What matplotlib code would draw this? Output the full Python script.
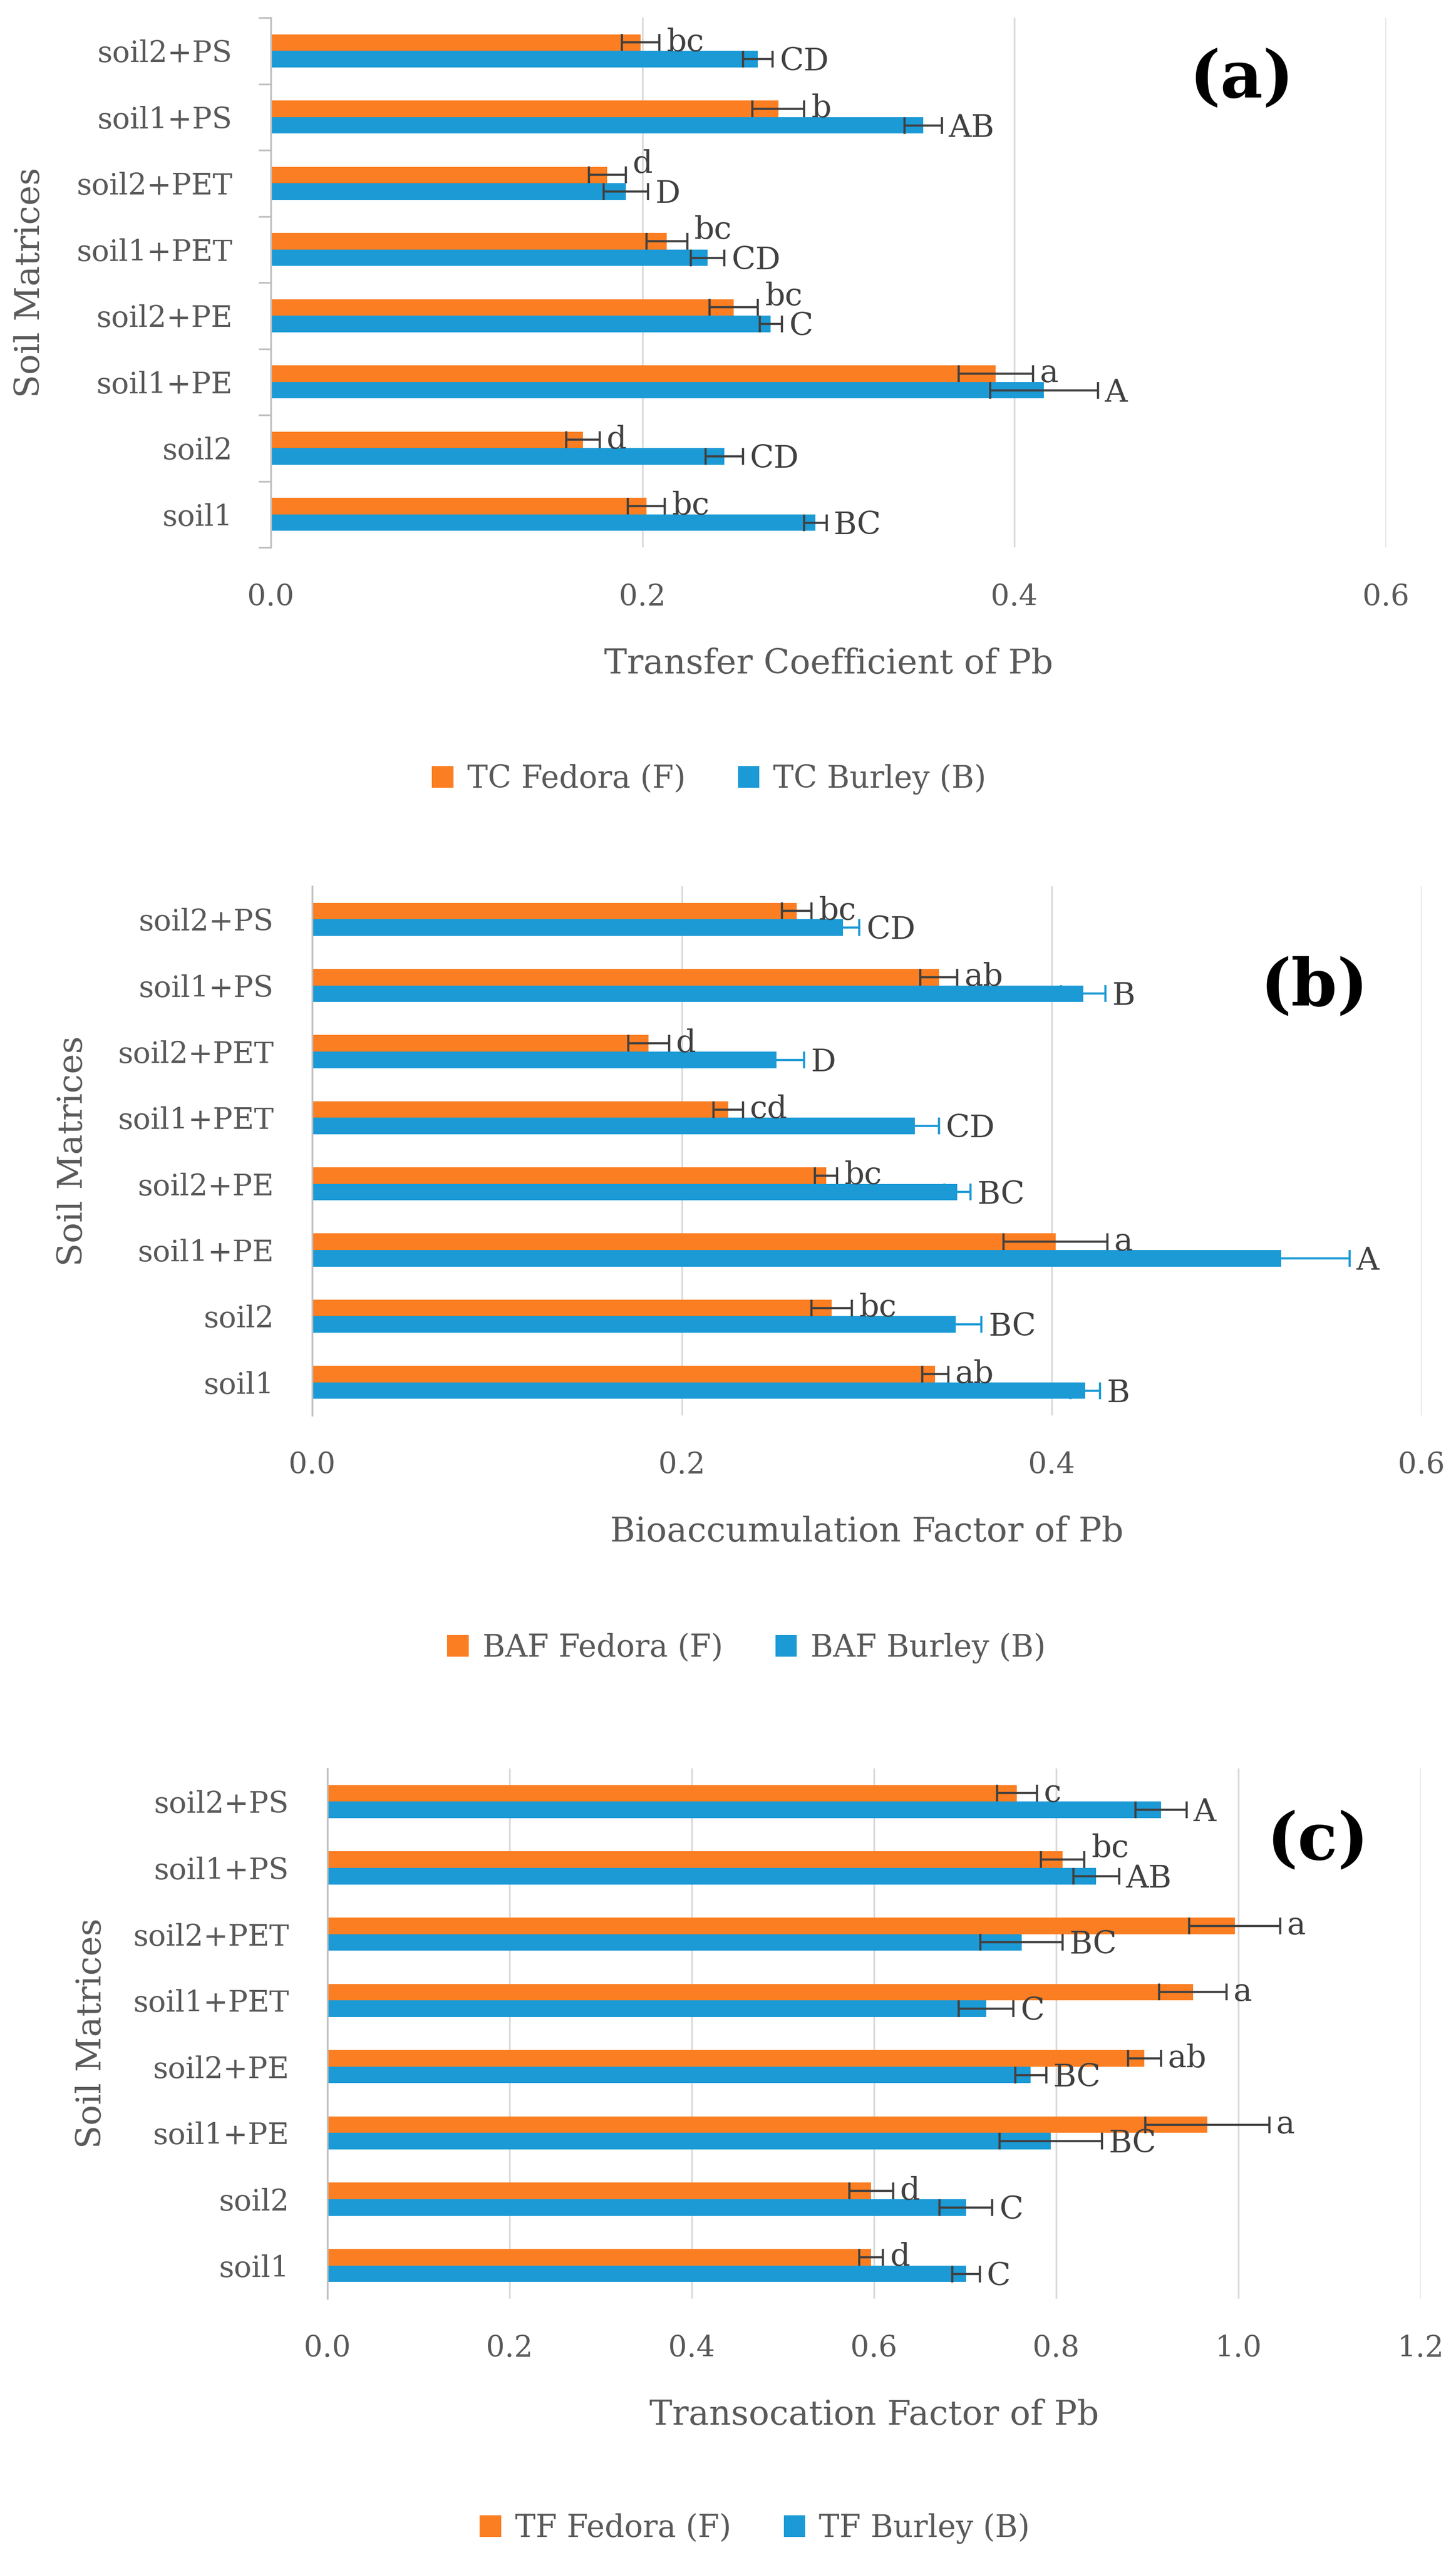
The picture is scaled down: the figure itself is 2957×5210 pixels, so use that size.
import matplotlib.pyplot as plt
from matplotlib.patches import Patch
import numpy as np

plt.rcParams['font.family'] = ['DejaVu Serif']

# categories from bottom to top
categories = ['soil1', 'soil2', 'soil1+PE', 'soil2+PE',
              'soil1+PET', 'soil2+PET', 'soil1+PS', 'soil2+PS']

# (a) transfer coefficient
tc_fedora = [0.202, 0.168, 0.390, 0.249, 0.213, 0.181, 0.273, 0.199]
tc_fedora_err = [0.010, 0.009, 0.020, 0.013, 0.011, 0.010, 0.014, 0.010]
tc_burley = [0.293, 0.244, 0.416, 0.269, 0.235, 0.191, 0.351, 0.262]
tc_burley_err = [0.006, 0.010, 0.029, 0.006, 0.009, 0.012, 0.010, 0.008]
tc_fedora_letters = ['bc', 'd', 'a', 'bc', 'bc', 'd', 'b', 'bc']
tc_burley_letters = ['BC', 'CD', 'A', 'C', 'CD', 'D', 'AB', 'CD']

# (b) bioaccumulation factor
baf_fedora = [0.337, 0.281, 0.402, 0.278, 0.225, 0.182, 0.339, 0.262]
baf_fedora_err = [0.007, 0.011, 0.028, 0.006, 0.008, 0.011, 0.010, 0.008]
baf_burley = [0.418, 0.348, 0.524, 0.349, 0.326, 0.251, 0.417, 0.287]
baf_burley_err = [0.008, 0.014, 0.037, 0.007, 0.013, 0.015, 0.012, 0.009]
baf_fedora_letters = ['ab', 'bc', 'a', 'bc', 'cd', 'd', 'ab', 'bc']
baf_burley_letters = ['B', 'BC', 'A', 'BC', 'CD', 'D', 'B', 'CD']

# (c) translocation factor
tf_fedora = [0.597, 0.597, 0.966, 0.897, 0.950, 0.996, 0.807, 0.757]
tf_fedora_err = [0.013, 0.024, 0.068, 0.018, 0.037, 0.050, 0.024, 0.022]
tf_burley = [0.701, 0.701, 0.794, 0.772, 0.723, 0.762, 0.844, 0.915]
tf_burley_err = [0.015, 0.029, 0.056, 0.017, 0.030, 0.045, 0.025, 0.028]
tf_fedora_letters = ['d', 'd', 'a', 'ab', 'a', 'a', 'bc', 'c']
tf_burley_letters = ['C', 'C', 'BC', 'BC', 'C', 'BC', 'AB', 'A']

ORANGE = '#FB7E22'
BLUE = '#1B9AD6'
ERR = '#404040'
TXT = '#595959'
GRID = '#D9D9D9'

W, H = 2957, 5210
fig = plt.figure(figsize=(W / 100, H / 100), dpi=100)


def px_axes(left, right, top, bottom):
    return fig.add_axes([left / W, 1 - bottom / H, (right - left) / W, (bottom - top) / H])


def panel(ax, fed, fed_err, bur, bur_err, fed_let, bur_let, xmax, xlabel,
          tag, tag_xy, leg_names, leg_xy, blue_err_color=ERR, ticks=False):
    y = np.arange(len(categories))
    h = 0.25
    ax.barh(y + h / 2, fed, height=h, color=ORANGE, zorder=2)
    ax.barh(y - h / 2, bur, height=h, color=BLUE, zorder=2)
    ax.errorbar(fed, y + h / 2, xerr=fed_err, fmt='none', ecolor=ERR,
                elinewidth=3.2, capsize=12, capthick=3.2, zorder=3)
    ax.errorbar(bur, y - h / 2, xerr=bur_err, fmt='none', ecolor=blue_err_color,
                elinewidth=3.2, capsize=12, capthick=3.2, zorder=3)

    # significance letters; lift the orange one when the blue bar ends just past it
    for i in range(len(categories)):
        fed_end = fed[i] + fed_err[i]
        bur_end = bur[i] + bur_err[i]
        lift = 16 if 0 < (bur_end - fed_end) / xmax < 0.04 else 0
        ax.annotate(fed_let[i], (fed_end, y[i] + h / 2),
                    xytext=(10, lift), textcoords='offset points',
                    ha='left', va='center', fontsize=46, color=ERR, zorder=4)
        ax.annotate(bur_let[i], (bur_end, y[i] - h / 2),
                    xytext=(10, -4), textcoords='offset points',
                    ha='left', va='center', fontsize=46, color=ERR, zorder=4)

    ax.set_xlim(0, xmax)
    ax.set_ylim(-0.5, len(categories) - 0.5)
    ax.set_xticks(np.arange(0, xmax + 0.001, 0.2))
    ax.xaxis.set_major_formatter(plt.FuncFormatter(lambda v, p: f'{v:.1f}'))
    ax.set_yticks(y)
    ax.set_yticklabels(categories)
    ax.grid(axis='x', color=GRID, linewidth=2.5, zorder=0)
    ax.set_axisbelow(True)
    for s in ['top', 'right', 'bottom']:
        ax.spines[s].set_visible(False)
    ax.spines['left'].set_color('#BFBFBF')
    ax.spines['left'].set_linewidth(2.5)
    ax.tick_params(axis='x', length=0, pad=52, labelsize=43, labelcolor=TXT)
    ax.tick_params(axis='y', length=0, pad=56, labelsize=43, labelcolor=TXT)
    if ticks:
        ax.set_yticks(np.arange(-0.5, len(categories), 1.0), minor=True)
        ax.tick_params(axis='y', which='minor', length=18, width=2.5, color='#BFBFBF')

    ax.set_xlabel(xlabel, fontsize=50, color=TXT)
    ax.xaxis.label.set_va('center')
    ax.xaxis.set_label_coords(0.5, -0.22)
    ax.set_ylabel('Soil Matrices', fontsize=50, color=TXT)
    ax.yaxis.label.set_va('center')
    ax.yaxis.set_label_coords(-0.216, 0.5)

    fig.text(tag_xy[0] / W, 1 - tag_xy[1] / H, tag, fontsize=96,
             fontweight='bold', ha='center', va='center', color='black')

    handles = [Patch(facecolor=ORANGE, label=leg_names[0]),
               Patch(facecolor=BLUE, label=leg_names[1])]
    fig.legend(handles=handles, loc='center', ncol=2, frameon=False,
               bbox_to_anchor=(leg_xy[0] / W, 1 - leg_xy[1] / H),
               fontsize=45, labelcolor=TXT, handlelength=0.7, handleheight=0.7,
               handletextpad=0.45, columnspacing=1.7)


ax_a = px_axes(550, 2815, 36, 1112)
panel(ax_a, tc_fedora, tc_fedora_err, tc_burley, tc_burley_err,
      tc_fedora_letters, tc_burley_letters, 0.6, 'Transfer Coefficient of Pb',
      '(a)', (2522, 161), ['TC Fedora (F)', 'TC Burley (B)'], (1440, 1583), ticks=True)

ax_b = px_axes(634, 2887, 1800, 2875)
panel(ax_b, baf_fedora, baf_fedora_err, baf_burley, baf_burley_err,
      baf_fedora_letters, baf_burley_letters, 0.6, 'Bioaccumulation Factor of Pb',
      '(b)', (2669, 2006), ['BAF Fedora (F)', 'BAF Burley (B)'], (1516, 3348),
      blue_err_color=BLUE)

ax_c = px_axes(665, 2885, 3592, 4669)
panel(ax_c, tf_fedora, tf_fedora_err, tf_burley, tf_burley_err,
      tf_fedora_letters, tf_burley_letters, 1.2, 'Transocation Factor of Pb',
      '(c)', (2676, 3740), ['TF Fedora (F)', 'TF Burley (B)'], (1533, 5136))

fig.savefig('out.png', dpi=100, facecolor='white')
